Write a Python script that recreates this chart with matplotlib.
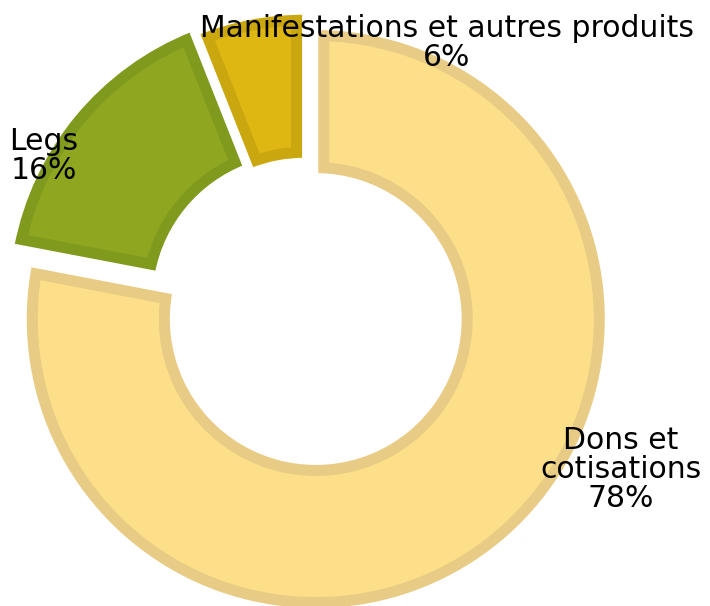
import matplotlib
matplotlib.use("Agg")
import matplotlib.pyplot as plt

categories = ["Dons et\ncotisations", "Legs", "Manifestations et autres produits"]
values = [78, 16, 6]
pct_labels = ["78%", "16%", "6%"]

fill_colors = ["#FDDF8A", "#8FA621", "#DFB713"]
edge_colors = ["#E8CB84", "#809A1E", "#CBA70F"]
explode = [0.058, 0.03, 0.008]

W, H, DPI = 710, 606, 100
S = 291.5           # pixels per data unit
CX, CY = 305, 306   # pie base centre in pixels (from top-left)

fig = plt.figure(figsize=(W / DPI, H / DPI), dpi=DPI)
ax = fig.add_axes([0, 0, 1, 1])

ring_w = 0.508
gap_px = 5
border_px = 11

common = dict(startangle=90, counterclock=False, explode=explode, radius=1.0)

fills, _ = ax.pie(values, colors=fill_colors,
                  wedgeprops=dict(width=ring_w, linewidth=0), **common)
borders, _ = ax.pie(values,
                    wedgeprops=dict(width=ring_w, facecolor="none",
                                    linewidth=2 * (border_px + gap_px / 2) * 72 / DPI),
                    **common)
for b, f, ec in zip(borders, fills, edge_colors):
    b.set_edgecolor(ec)
    b.set_clip_path(f.get_path(), f.get_transform())
    b.set_clip_on(True)
whites, _ = ax.pie(values,
                   wedgeprops=dict(width=ring_w, facecolor="none", edgecolor="white",
                                   linewidth=gap_px * 72 / DPI),
                   **common)

ax.set_xlim(-CX / S, (W - CX) / S)
ax.set_ylim(-(H - CY) / S, CY / S)
ax.set_aspect("auto")
ax.axis("off")

font = dict(family=["DejaVu Sans"], fontsize=21.5, color="black",
            ha="center", va="center", linespacing=1.0)

def px(x, y):
    return ((x - CX) / S, (CY - y) / S)

ax.text(*px(447, 43), categories[2] + "\n" + pct_labels[2], **font)
ax.text(*px(44, 156), categories[1] + "\n" + pct_labels[1], **font)
ax.text(*px(621, 469), categories[0] + "\n" + pct_labels[0], **font)

fig.savefig("out.png", dpi=DPI)
